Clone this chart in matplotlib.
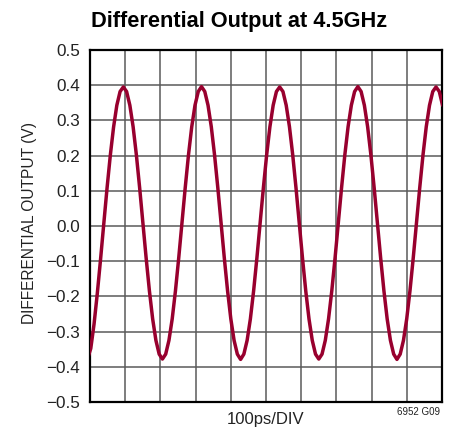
import numpy as np
import matplotlib
matplotlib.use("Agg")
import matplotlib.pyplot as plt

# scope trace, one sample every 9.25 ps starting at -6.75 ps (one row ~ one period)
trace_v = [
    -0.377, -0.348, -0.279, -0.192, -0.095, 0.007, 0.108, 0.201, 0.281, 0.343, 0.382, 0.395,
    0.382, 0.343, 0.282, 0.202, 0.109, 0.009, -0.091, -0.184, -0.264, -0.325, -0.364, -0.378,
    -0.364, -0.325, -0.264, -0.184, -0.091, 0.009, 0.109, 0.202, 0.282, 0.343, 0.382, 0.396,
    0.382, 0.343, 0.282, 0.202, 0.109, 0.009, -0.091, -0.184, -0.264, -0.325, -0.364, -0.379,
    -0.364, -0.325, -0.264, -0.184, -0.091, 0.009, 0.109, 0.202, 0.282, 0.343, 0.382, 0.395,
    0.382, 0.343, 0.282, 0.202, 0.109, 0.009, -0.091, -0.184, -0.264, -0.325, -0.364, -0.378,
    -0.364, -0.325, -0.264, -0.184, -0.091, 0.009, 0.109, 0.202, 0.282, 0.343, 0.382, 0.396,
    0.382, 0.343, 0.282, 0.202, 0.109, 0.009, -0.091, -0.184, -0.264, -0.325, -0.364, -0.379,
    -0.364, -0.325, -0.264, -0.184, -0.091, 0.009, 0.109, 0.202, 0.282, 0.343, 0.382, 0.395,
    0.382, 0.343,
]
t_start_ps = -6.75
t_step_ps = 9.25

y_ticks = [-0.5, -0.4, -0.3, -0.2, -0.1, 0.0, 0.1, 0.2, 0.3, 0.4, 0.5]
y_labels = ["\u22120.5", "\u22120.4", "\u22120.3", "\u22120.2", "\u22120.1", "0.0",
            "0.1", "0.2", "0.3", "0.4", "0.5"]
x_divs = list(range(0, 1001, 100))

plt.rcParams["font.family"] = ["Liberation Sans", "DejaVu Sans"]

t_ps = t_start_ps + t_step_ps * np.arange(len(trace_v))

fig = plt.figure(figsize=(4.54, 4.33), dpi=100)
ax = fig.add_axes([0.198, 0.0716, 0.7756, 0.8129])

ax.plot(t_ps, trace_v, color="#98002e", lw=2.5, solid_capstyle="round", zorder=3)

ax.set_xlim(0, 1000)
ax.set_ylim(-0.5, 0.5)
ax.set_xticks(x_divs)
ax.set_xticklabels([])
ax.set_yticks(y_ticks)
ax.set_yticklabels(y_labels, fontsize=12.3, color="#222222")
ax.tick_params(length=0, pad=7)
ax.grid(True, color="#5a5a5a", lw=1.1)
for s in ax.spines.values():
    s.set_linewidth(1.6)
    s.set_color("black")

fig.text(0.066, 0.484, "DIFFERENTIAL OUTPUT (V)", fontsize=11.2, rotation=90,
         ha="center", va="center", color="#222222")
fig.text(0.584, 0.032, "100ps/DIV", fontsize=12, ha="center", va="center", color="#222222")

fig.text(0.5275, 0.9383, "Differential Output at 4.5GHz", fontsize=15.7,
         fontweight="bold", ha="center", va="baseline")
fig.text(0.969, 0.048, "6952 G09", fontsize=7, ha="right", va="center", color="#222222")

fig.savefig("out.png", dpi=100)
